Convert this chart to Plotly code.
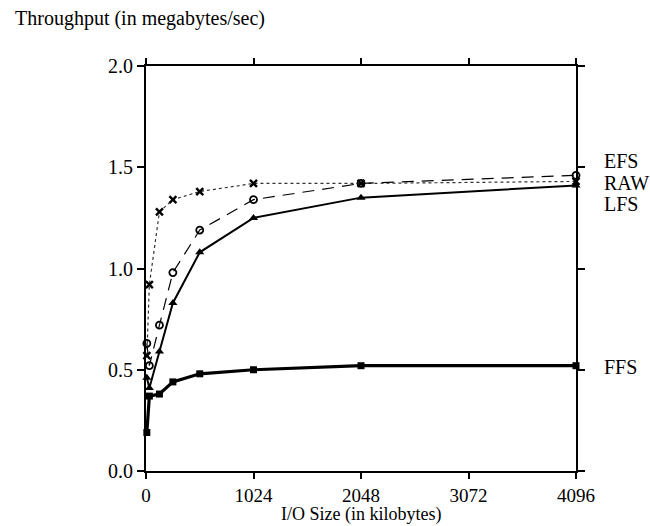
import plotly.graph_objects as go

io_size = [8, 32, 128, 256, 512, 1024, 2048, 4096]
efs = [0.57, 0.92, 1.28, 1.34, 1.38, 1.42, 1.42, 1.43]
raw = [0.63, 0.52, 0.72, 0.98, 1.19, 1.34, 1.42, 1.46]
lfs = [0.46, 0.41, 0.59, 0.83, 1.08, 1.25, 1.35, 1.41]
ffs = [0.19, 0.37, 0.38, 0.44, 0.48, 0.50, 0.52, 0.52]

x_ticks = [0, 1024, 2048, 3072, 4096]
y_ticks = [0.0, 0.5, 1.0, 1.5, 2.0]

labels = ["EFS", "RAW", "LFS", "FFS"]
label_y = [1.53, 1.42, 1.32, 0.515]

FONT = "Liberation Serif, Times New Roman, serif"

fig = go.Figure()
fig.add_trace(go.Scatter(x=io_size, y=efs, mode="lines+markers", cliponaxis=False,
                         line=dict(color="#333", width=1.2, dash="3px,3px"),
                         marker=dict(symbol="x-thin", size=7, line=dict(color="black", width=2.4), color="black")))
fig.add_trace(go.Scatter(x=io_size, y=raw, mode="lines+markers", cliponaxis=False,
                         line=dict(color="black", width=1.2, dash="12px,8px"),
                         marker=dict(symbol="circle-open", size=7, line=dict(color="black", width=1.8), color="black")))
fig.add_trace(go.Scatter(x=io_size, y=lfs, mode="lines+markers", cliponaxis=False,
                         line=dict(color="black", width=2),
                         marker=dict(symbol="triangle-up", size=8, color="black")))
fig.add_trace(go.Scatter(x=io_size, y=ffs, mode="lines+markers", cliponaxis=False,
                         line=dict(color="black", width=3.2),
                         marker=dict(symbol="square", size=7, color="black")))

for lab, ly in zip(labels, label_y):
    fig.add_annotation(text=lab, x=(602 - 146) / 430, xref="paper", xanchor="left",
                       y=ly, yref="y", yanchor="middle", showarrow=False,
                       font=dict(family=FONT, size=20, color="black"))

fig.add_annotation(text="Throughput (in megabytes/sec)", x=(13 - 146) / 430, xref="paper",
                   xanchor="left", y=(471 - 18) / 405, yref="paper", yanchor="middle",
                   showarrow=False, font=dict(family=FONT, size=20, color="black"))
fig.add_annotation(text="I/O Size (in kilobytes)", x=0.5, xref="paper", xanchor="center",
                   y=(471 - 514) / 405, yref="paper", yanchor="middle",
                   showarrow=False, font=dict(family=FONT, size=18, color="black"))

fig.update_layout(
    width=650, height=526,
    margin=dict(l=146, r=74, t=66, b=55),
    plot_bgcolor="white", paper_bgcolor="white",
    showlegend=False,
    font=dict(family=FONT, size=20, color="black"),
    xaxis=dict(range=[0, 4096], tickvals=x_ticks, ticktext=[str(v) for v in x_ticks],
               ticks="outside", ticklen=6, tickwidth=2, tickcolor="black",
               tickfont=dict(size=19),
               showline=True, linecolor="black", linewidth=2, mirror="ticks",
               showgrid=False, zeroline=False),
    yaxis=dict(range=[0, 2.0], tickvals=y_ticks, ticktext=[f"{v:.1f}" for v in y_ticks],
               ticks="outside", ticklen=7, tickwidth=2, tickcolor="black",
               showline=True, linecolor="black", linewidth=2, mirror="ticks",
               showgrid=False, zeroline=False),
)

fig.write_html("out.html", config={"displayModeBar": False},
               post_script="document.body.style.margin='0';document.body.style.overflow='hidden';")
